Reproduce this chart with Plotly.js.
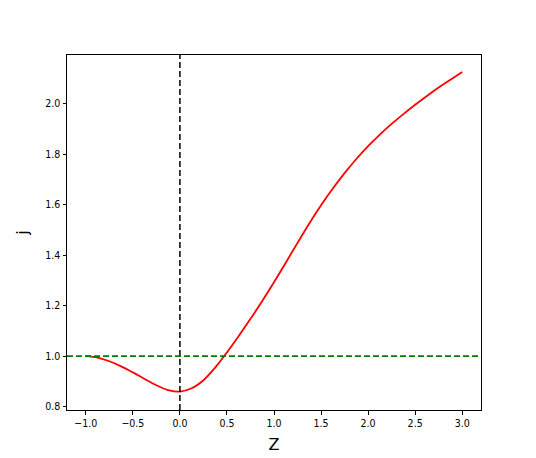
<!DOCTYPE html>
<html>
<head>
<meta charset="utf-8">
<script src="https://cdn.plot.ly/plotly-3.0.1.min.js"></script>
<style>html,body{margin:0;padding:0;background:#fff;}#chart{width:536px;height:458px;}</style>
</head>
<body>
<div id="chart"></div>
<script>
// Values
const zValues = [-1.0, -0.875, -0.75, -0.625, -0.5, -0.375, -0.25, -0.125, 0.0, 0.125, 0.25, 0.375, 0.5, 0.625, 0.75, 0.875, 1.0, 1.125, 1.25, 1.375, 1.5, 1.625, 1.75, 1.875, 2.0, 2.125, 2.25, 2.375, 2.5, 2.625, 2.75, 2.875, 3.0];
const jValues = [1.000, 0.994, 0.980, 0.960, 0.936, 0.910, 0.885, 0.866, 0.860, 0.873, 0.905, 0.955, 1.015, 1.080, 1.148, 1.219, 1.293, 1.370, 1.449, 1.526, 1.598, 1.664, 1.725, 1.781, 1.832, 1.878, 1.920, 1.959, 1.996, 2.031, 2.064, 2.095, 2.126];
const verticalRef = 0.0;
const horizontalRef = 1.0;
const xTitle = 'Z';
const yTitle = 'j';

const tickFont = {family: 'DejaVu Sans Condensed, DejaVu Sans, sans-serif', size: 10.5, color: '#000'};

const traces = [{
  x: zValues, y: jValues, type: 'scatter', mode: 'lines',
  line: {color: 'red', width: 1.8, shape: 'spline', smoothing: 1},
  hoverinfo: 'skip'
}];

const layout = {
  width: 536, height: 458,
  margin: {l: 67, r: 55, t: 55, b: 48},
  paper_bgcolor: '#fff', plot_bgcolor: '#fff',
  showlegend: false,
  xaxis: {
    range: [-1.2, 3.2], dtick: 0.5, tick0: 0, tickformat: '.1f',
    showgrid: false, zeroline: false,
    showline: true, linecolor: '#000', linewidth: 1, mirror: true,
    ticks: 'outside', ticklen: 3.5, tickwidth: 1, tickcolor: '#000',
    tickfont: tickFont,
    title: {text: xTitle, font: {family: 'DejaVu Sans, sans-serif', size: 16, color: '#000'}, standoff: 10}
  },
  yaxis: {
    range: [0.787, 2.193], dtick: 0.2, tick0: 0, tickformat: '.1f',
    showgrid: false, zeroline: false,
    showline: true, linecolor: '#000', linewidth: 1, mirror: true,
    ticks: 'outside', ticklen: 3.5, tickwidth: 1, tickcolor: '#000',
    tickfont: tickFont,
    title: {text: yTitle, font: {family: 'DejaVu Sans, sans-serif', size: 16, color: '#000'}, standoff: 12}
  },
  shapes: [
    {type: 'line', xref: 'x', yref: 'paper', x0: verticalRef, x1: verticalRef, y0: 0, y1: 1,
     line: {color: '#000', width: 1.5, dash: '6px,3px'}},
    {type: 'line', xref: 'paper', yref: 'y', x0: 0, x1: 1, y0: horizontalRef, y1: horizontalRef,
     line: {color: 'green', width: 1.8, dash: '6px,3px'}}
  ]
};

Plotly.newPlot('chart', traces, layout, {staticPlot: true, displayModeBar: false});
</script>
</body>
</html>
